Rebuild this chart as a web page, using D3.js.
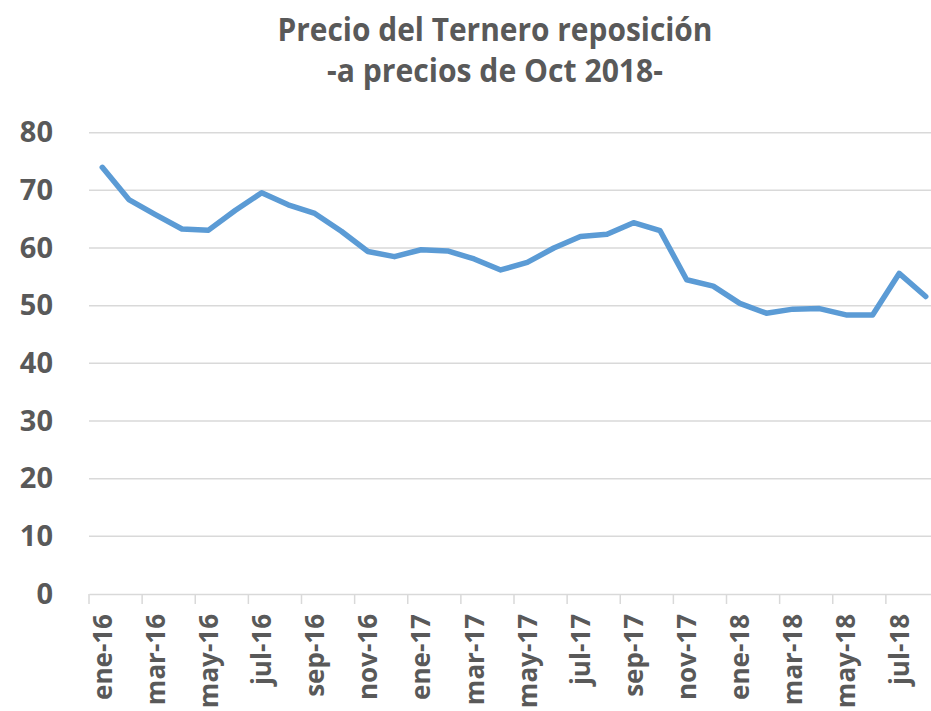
<!DOCTYPE html>
<html>
<head>
<meta charset="utf-8">
<script src="https://cdn.jsdelivr.net/npm/d3@7"></script>
<style>
  body { margin: 0; background: #fff; }
  svg { display: block; font-family: 'Open Sans', sans-serif; }
</style>
</head>
<body>
<div id="chart"></div>
<script>
// months ene-16 .. ago-18
const months = [
  'ene-16', 'feb-16', 'mar-16', 'abr-16', 'may-16', 'jun-16', 'jul-16', 'ago-16',
  'sep-16', 'oct-16', 'nov-16', 'dic-16', 'ene-17', 'feb-17', 'mar-17', 'abr-17',
  'may-17', 'jun-17', 'jul-17', 'ago-17', 'sep-17', 'oct-17', 'nov-17', 'dic-17',
  'ene-18', 'feb-18', 'mar-18', 'abr-18', 'may-18', 'jun-18', 'jul-18', 'ago-18',
];
const precio = [
  74.0, 68.4, 65.8, 63.3, 63.1, 66.5, 69.6, 67.5,
  66.0, 62.9, 59.4, 58.5, 59.7, 59.5, 58.1, 56.2,
  57.5, 60.0, 62.0, 62.4, 64.4, 63.0, 54.5, 53.4,
  50.4, 48.7, 49.4, 49.5, 48.4, 48.4, 55.6, 51.6,
];
const yTicks = [0, 10, 20, 30, 40, 50, 60, 70, 80];
const titleLines = ['Precio del Ternero reposición', '-a precios de Oct 2018-'];

const width = 931;
const height = 711;
const margin = {
  top: 132.7, right: -8, bottom: 117, left: 89,
};
const innerW = width - margin.left - margin.right;
const innerH = height - margin.top - margin.bottom;

const svg = d3.select('#chart').append('svg')
  .attr('width', width)
  .attr('height', height);

// title
svg.selectAll('.title')
  .data(titleLines)
  .enter().append('text')
  .attr('class', 'title')
  .attr('x', 495)
  .attr('y', (d, i) => 41 + i * 41)
  .attr('text-anchor', 'middle')
  .attr('fill', '#595959')
  .attr('font-weight', 'bold')
  .attr('font-size', 33)
  .attr('textLength', (d, i) => (i === 0 ? 435 : 336))
  .attr('lengthAdjust', 'spacingAndGlyphs')
  .text(d => d);

const g = svg.append('g')
  .attr('transform', `translate(${margin.left},${margin.top})`);

const x = d3.scaleBand()
  .domain(months)
  .range([0, innerW]);
const y = d3.scaleLinear()
  .domain([0, 80])
  .range([innerH, 0]);

// gridlines
g.selectAll('.grid')
  .data(yTicks.filter(t => t > 0))
  .enter().append('line')
  .attr('class', 'grid')
  .attr('x1', 0)
  .attr('x2', innerW)
  .attr('y1', d => y(d))
  .attr('y2', d => y(d))
  .attr('stroke', '#d9d9d9')
  .attr('stroke-width', 1.5);

// y axis labels
const yAxis = g.append('g')
  .call(d3.axisLeft(y).tickValues(yTicks).tickSize(0).tickPadding(36));
yAxis.select('.domain').remove();
yAxis.selectAll('text')
  .attr('fill', '#595959')
  .attr('font-size', 29)
  .attr('font-weight', 'bold')
  .attr('font-family', "'Open Sans', sans-serif");

// x axis
const xAxis = g.append('g')
  .attr('transform', `translate(0,${innerH})`)
  .call(d3.axisBottom(x).tickSize(0).tickFormat((d, i) => (i % 2 === 0 ? d : '')));
xAxis.select('.domain')
  .attr('stroke', '#d9d9d9')
  .attr('stroke-width', 1.5);
xAxis.selectAll('text')
  .attr('transform', 'rotate(-90)')
  .attr('text-anchor', 'end')
  .attr('x', -20)
  .attr('y', 0)
  .attr('dy', '0.36em')
  .attr('fill', '#595959')
  .attr('font-size', 26)
  .attr('font-weight', 'bold')
  .attr('font-family', "'Open Sans', sans-serif");

// tick marks at band boundaries every 2 months
xAxis.selectAll('.bound')
  .data(months.filter((d, i) => i % 2 === 0))
  .enter().append('line')
  .attr('class', 'bound')
  .attr('x1', d => x(d))
  .attr('x2', d => x(d))
  .attr('y1', 0)
  .attr('y2', 10)
  .attr('stroke', '#d9d9d9')
  .attr('stroke-width', 1.5);

// line
const line = d3.line()
  .x((d, i) => x(months[i]) + x.bandwidth() / 2)
  .y(d => y(d));

g.append('path')
  .datum(precio)
  .attr('d', line)
  .attr('fill', 'none')
  .attr('stroke', '#5b9bd5')
  .attr('stroke-width', 5.5)
  .attr('stroke-linejoin', 'round')
  .attr('stroke-linecap', 'round');
</script>
</body>
</html>
